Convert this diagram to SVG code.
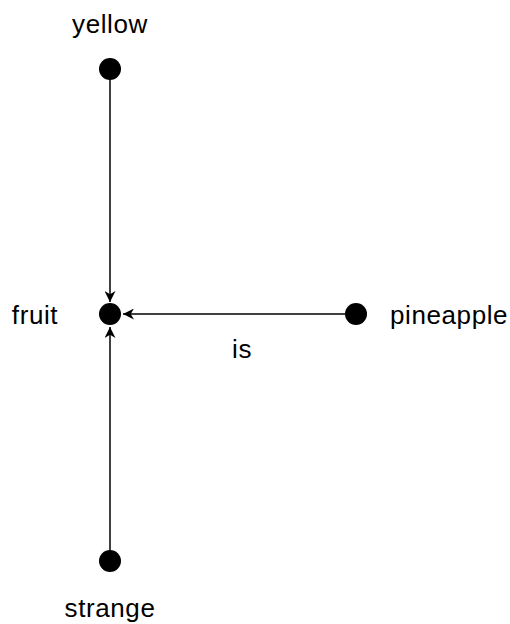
<svg xmlns="http://www.w3.org/2000/svg" width="510" height="624" viewBox="0 0 510 624">
<style>
.n{fill:#000}
.t{font-family:"Liberation Sans",Arial,sans-serif;font-size:26px;letter-spacing:0.6px;fill:#000}
.e{stroke:#000;stroke-width:1.5;fill:none}
</style>
<defs>
<marker id="a" viewBox="0 0 10 10" refX="10" refY="5" markerWidth="11" markerHeight="11" markerUnits="userSpaceOnUse" orient="auto">
<path d="M0,0 L10,5 L0,10 L3,5 Z" fill="#000"/>
</marker>
</defs>
<rect width="510" height="624" fill="#fff"/>
<g id="edges">
<line class="e" x1="110" y1="80" x2="110" y2="302" marker-end="url(#a)"/>
<line class="e" x1="345" y1="314" x2="123" y2="314" marker-end="url(#a)"/>
<line class="e" x1="110" y1="550" x2="110" y2="327" marker-end="url(#a)"/>
<text class="t" x="242" y="358" text-anchor="middle">is</text>
</g>
<g id="yellow"><circle class="n" cx="110" cy="69" r="11"/><text class="t" x="110" y="33" text-anchor="middle">yellow</text></g>
<g id="fruit"><circle class="n" cx="110" cy="314" r="11"/><text class="t" x="35" y="324" text-anchor="middle">fruit</text></g>
<g id="pineapple"><circle class="n" cx="356" cy="314" r="11"/><text class="t" x="390" y="324">pineapple</text></g>
<g id="strange"><circle class="n" cx="110" cy="561" r="11"/><text class="t" x="110" y="617" text-anchor="middle">strange</text></g>
</svg>
